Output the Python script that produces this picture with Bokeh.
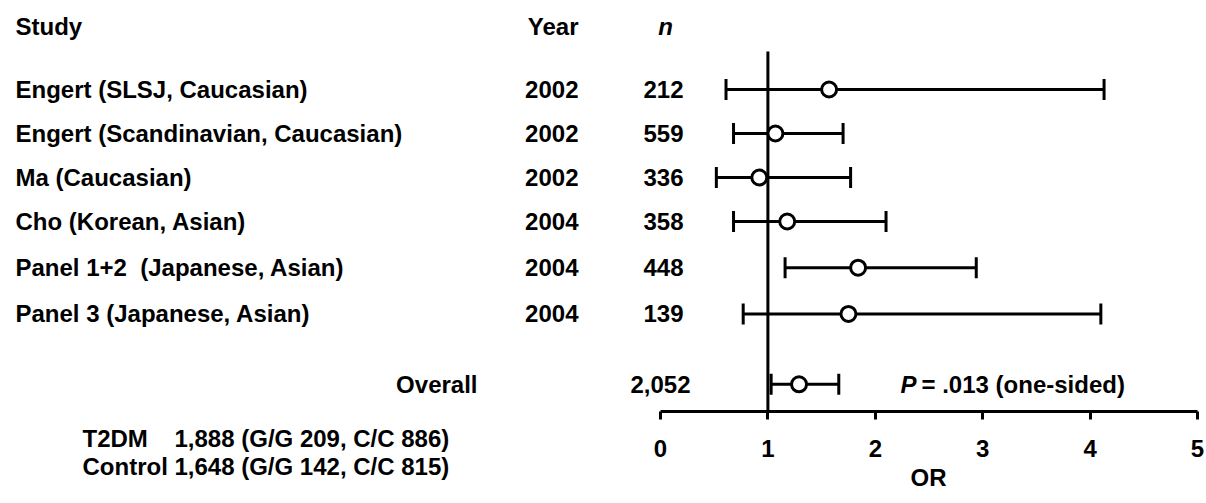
from bokeh.plotting import figure
from bokeh.models import (ColumnDataSource, Whisker, TeeHead, LinearAxis, FixedTicker, Range1d, Title)
from bokeh.layouts import row
from bokeh.core.properties import value
from bokeh.embed import file_html
from bokeh.resources import INLINE

# ---- data ----
studies = ["Engert (SLSJ, Caucasian)", "Engert (Scandinavian, Caucasian)", "Ma (Caucasian)",
           "Cho (Korean, Asian)", "Panel 1+2\u00a0 (Japanese, Asian)", "Panel 3 (Japanese, Asian)"]
years = ["2002", "2002", "2002", "2004", "2004", "2004"]
ns = ["212", "559", "336", "358", "448", "139"]
odds = [1.57, 1.07, 0.92, 1.18, 1.84, 1.75]
ci_lo = [0.61, 0.68, 0.52, 0.68, 1.16, 0.77]
ci_hi = [4.13, 1.70, 1.77, 2.10, 2.94, 4.10]
rows = [0, 1, 2, 3, 4.05, 5.1]

overall_label = "Overall"
overall_n = "2,052"
overall_or = [1.29]
overall_lo = [1.03]
overall_hi = [1.66]
overall_row = [6.7]

p_italic = "P"
p_text = "= .013 (one-sided)"
group_lines = ["T2DM\u00a0\u00a0\u00a0\u00a01,888 (G/G 209, C/C 886)",
               "Control\u00a01,648 (G/G 142, C/C 815)"]
ticks = [0, 1, 2, 3, 4, 5]
x_label = "OR"

FONT = "Liberation Sans"
FS = "24px"

W, H = 1206, 503
WL = 600
WR = W - WL
px_per_unit = 107.4
x0_page = 660.0
row_px = 44.0
row0_page = 89.0
axis_page = 411.0
BOTTOM = H - int(axis_page)

def yr(page):
    return (page - row0_page) / row_px

def xr(page):
    return (page - x0_page) / px_per_unit

common = dict(text_font=value(FONT), text_font_style="bold", text_font_size=FS,
              text_color="black", text_baseline="middle")
italic = dict(common, text_font_style="bold italic")

def base_fig(width, xrange):
    f = figure(width=width, height=H, output_backend="svg", toolbar_location=None,
               x_range=xrange, y_range=Range1d(yr(axis_page), yr(0)),
               x_axis_location=None, y_axis_location=None,
               min_border_left=0, min_border_right=0, min_border_top=0,
               min_border_bottom=BOTTOM)
    f.outline_line_color = None
    f.xgrid.visible = False
    f.ygrid.visible = False
    return f

# ---------------- left panel: study names, years, totals ----------------
left = base_fig(WL, Range1d(0, WL))

src_l = ColumnDataSource(dict(y=rows, study=studies, year=years))
left.text(x=[15], y=[yr(26)], text=["Study"], text_align="left", **common)
left.text(x=[578], y=[yr(26)], text=["Year"], text_align="right", **common)
left.text(x=15, y="y", text="study", source=src_l, text_align="left", **common)
left.text(x=578, y="y", text="year", source=src_l, text_align="right", **common)
left.text(x=[477], y=overall_row, text=[overall_label], text_align="right", **common)

left.add_layout(Title(text="\n".join(group_lines), align="left", offset=82, standoff=24,
                      text_line_height=1.05,
                      text_font=FONT, text_font_style="bold", text_font_size=FS,
                      text_color="black"), "below")

# ---------------- right panel: forest plot ----------------
right = base_fig(WR, Range1d(xr(WL), xr(W)))

ax = LinearAxis(ticker=FixedTicker(ticks=ticks), bounds=(0, 5))
ax.axis_line_width = 3
ax.axis_line_color = "black"
ax.major_tick_line_width = 3
ax.major_tick_out = 8
ax.major_tick_in = 0
ax.minor_tick_out = 0
ax.minor_tick_in = 0
ax.major_label_text_font = FONT
ax.major_label_text_font_style = "bold"
ax.major_label_text_font_size = FS
ax.major_label_text_color = "black"
ax.major_label_standoff = 20
right.add_layout(ax, "below")
right.add_layout(Title(text=x_label, align="left", offset=310, standoff=4,
                       text_font=FONT, text_font_style="bold", text_font_size=FS,
                       text_color="black"), "below")

# reference line at OR = 1
right.segment(x0=[1], x1=[1], y0=[yr(51)], y1=[yr(axis_page)], line_color="black", line_width=3)

src = ColumnDataSource(dict(y=rows, lo=ci_lo, hi=ci_hi, orv=odds, n=ns))
osrc = ColumnDataSource(dict(y=overall_row, lo=overall_lo, hi=overall_hi, orv=overall_or))

for s in (src, osrc):
    w = Whisker(source=s, base="y", lower="lo", upper="hi", dimension="width",
                line_width=3, line_color="black",
                lower_head=TeeHead(size=21, line_width=3, line_color="black"),
                upper_head=TeeHead(size=21, line_width=3, line_color="black"))
    right.add_layout(w)
    right.scatter(x="orv", y="y", source=s, marker="circle", size=15, fill_color="white",
                  line_color="black", line_width=3)

right.text(x=[xr(665)], y=[yr(26)], text=["n"], text_align="center", **italic)
right.text(x=xr(663), y="y", text="n", source=src, text_align="center", **common)
right.text(x=[xr(660)], y=overall_row, text=[overall_n], text_align="center", **common)
right.text(x=[xr(900)], y=overall_row, text=[p_italic], text_align="left", **italic)
right.text(x=[xr(921)], y=overall_row, text=[p_text], text_align="left", **common)

layout = row(left, right, spacing=0)
open("out.html", "w").write(file_html(layout, INLINE))
